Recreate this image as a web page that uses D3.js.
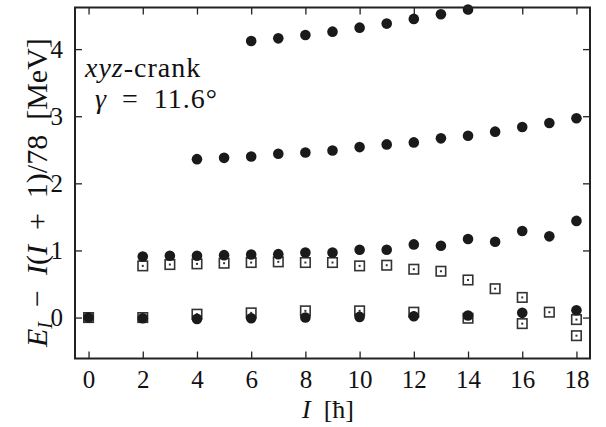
<!DOCTYPE html>
<html><head>
<script src="https://cdn.jsdelivr.net/npm/d3@7"></script>
</head><body style="margin:0">
<script>
// Data
const topI = [6,7,8,9,10,11,12,13,14];
const topE = [4.12,4.16,4.21,4.26,4.32,4.38,4.45,4.52,4.59];
const secondI = [4,5,6,7,8,9,10,11,12,13,14,15,16,17,18];
const secondE = [2.36,2.38,2.40,2.44,2.46,2.49,2.54,2.58,2.61,2.67,2.71,2.77,2.84,2.90,2.97];
const thirdI = [2,3,4,5,6,7,8,9,10,11,12,13,14,15,16,17,18];
const thirdE = [0.91,0.92,0.92,0.93,0.94,0.945,0.97,0.97,1.01,1.01,1.09,1.07,1.17,1.13,1.29,1.21,1.44];
const yrastCircI = [0,2,4,6,8,10,12,14,16,18];
const yrastCircE = [0.0,-0.01,-0.02,-0.01,0.0,0.01,0.02,0.03,0.07,0.11];
const sqUpperI = [2,3,4,5,6,7,8,9,10,11,12,13,14,15,16,17,18];
const sqUpperE = [0.77,0.79,0.80,0.81,0.82,0.83,0.82,0.82,0.77,0.78,0.72,0.69,0.56,0.43,0.30,0.08,-0.27];
const sqLowerI = [0,2,4,6,8,10,12,14,16,18];
const sqLowerE = [0.0,0.0,0.05,0.07,0.10,0.10,0.08,-0.01,-0.09,-0.03];
const xTicks = [0,2,4,6,8,10,12,14,16,18];
const yTicks = [0,1,2,3,4];

const FONT='"Liberation Serif"';
const W=606,H=427;
const m={l:75,r:16,t:7.5,b:68.5};
const svg=d3.select("body").append("svg").attr("width",W).attr("height",H).style("display","block");
const x=d3.scaleLinear().domain([-0.5,18.5]).range([m.l,W-m.r]);
const y=d3.scaleLinear().domain([-0.61,4.62]).range([H-m.b,m.t]);

const zip=(a,b)=>a.map((v,i)=>[v,b[i]]);
const squares=[...zip(sqUpperI,sqUpperE),...zip(sqLowerI,sqLowerE)];
const circles=[...zip(topI,topE),...zip(secondI,secondE),...zip(thirdI,thirdE),...zip(yrastCircI,yrastCircE)];

const plot=svg.append("g");
const s=9.5;
plot.selectAll("rect.sq").data(squares).enter().append("rect")
  .attr("x",d=>x(d[0])-s/2).attr("y",d=>y(d[1])-s/2).attr("width",s).attr("height",s)
  .attr("fill","#fff").attr("stroke","#333").attr("stroke-width",1.6);
plot.selectAll("rect.dot").data(squares).enter().append("rect")
  .attr("x",d=>x(d[0])-1).attr("y",d=>y(d[1])-1).attr("width",2).attr("height",2).attr("fill","#333");
plot.selectAll("circle").data(circles).enter().append("circle")
  .attr("cx",d=>x(d[0])).attr("cy",d=>y(d[1])).attr("r",5.3).attr("fill","#1a1a1a");

// axes
const tl=7;
const gx=svg.append("g").attr("transform",`translate(0,${H-m.b})`)
  .call(d3.axisBottom(x).tickValues(xTicks).tickSize(-tl).tickPadding(12).tickFormat(d3.format("d")));
const gxt=svg.append("g").attr("transform",`translate(0,${m.t})`)
  .call(d3.axisTop(x).tickValues(xTicks).tickSize(-tl).tickFormat(""));
const gy=svg.append("g").attr("transform",`translate(${m.l},0)`)
  .call(d3.axisLeft(y).tickValues(yTicks).tickSize(-tl).tickPadding(12).tickFormat(d3.format("d")));
const gyr=svg.append("g").attr("transform",`translate(${W-m.r},0)`)
  .call(d3.axisRight(y).tickValues(yTicks).tickSize(-tl).tickFormat(""));
[gx,gxt,gy,gyr].forEach(g=>{
  g.attr("font-family",null).attr("font-size",null);
  g.select(".domain").remove();g.selectAll("line").attr("stroke","#222").attr("stroke-width",1.3);});
svg.selectAll(".tick text").style("font-family",FONT).attr("font-size",25).attr("fill","#111");
gx.selectAll(".tick text").attr("dy","0.71em");
svg.append("rect").attr("x",m.l).attr("y",m.t).attr("width",W-m.r-m.l).attr("height",H-m.b-m.t)
  .attr("fill","none").attr("stroke","#222").attr("stroke-width",2);

// labels
const xl=svg.append("text").attr("x",302).attr("y",418).style("font-family",FONT).attr("font-size",26).attr("fill","#111");
xl.append("tspan").style("font-style","italic").text("I");
xl.append("tspan").text("\u2002[ħ]");

const yl=svg.append("text").attr("transform","translate(47,347) rotate(-90)").style("font-family",FONT).attr("font-size",30).attr("fill","#111");
yl.append("tspan").style("font-style","italic").text("E");
yl.append("tspan").style("font-style","italic").attr("font-size",20).attr("dy",5).text("I");
yl.append("tspan").attr("dy",-5).text("\u2002−\u2002");
yl.append("tspan").style("font-style","italic").text("I");
yl.append("tspan").text("(");
yl.append("tspan").style("font-style","italic").text("I");
yl.append("tspan").text("\u2002+\u20021)/78\u2002[MeV]");

const a1=svg.append("text").attr("x",85).attr("y",77).style("font-family",FONT).attr("font-size",28)
  .style("letter-spacing","1px").attr("fill","#111");
a1.append("tspan").style("font-style","italic").text("xyz");
a1.append("tspan").text("-crank");
const a2=svg.append("text").attr("x",95).attr("y",108).style("font-family",FONT).attr("font-size",28)
  .style("letter-spacing","1px").attr("fill","#111");
a2.append("tspan").style("font-style","italic").text("γ");
a2.append("tspan").text("\u2002=\u200211.6°");
</script>
</body></html>
